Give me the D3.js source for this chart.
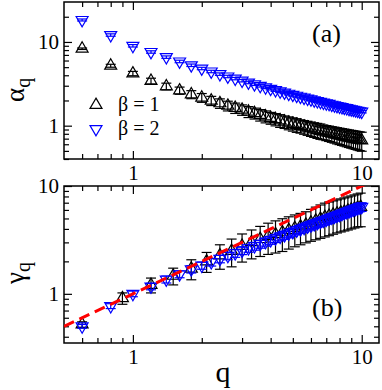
<!DOCTYPE html>
<html>
<head>
<meta charset="utf-8">
<title>alpha_q and gamma_q</title>
<script src="https://cdn.jsdelivr.net/npm/d3@7"></script>
<style>
body { margin: 0; background: #fff; }
svg { display: block; }
text { font-family: "Liberation Serif", "Times New Roman", serif; fill: #000; }
.tick text { font-size: 21px; }
.tick line { stroke: #000; stroke-width: 1.2px; }
</style>
</head>
<body>
<svg id="chart" width="382" height="390" font-family="Liberation Serif, serif"></svg>
<script>

// q grid, step 0.2
var qA = [0.6,0.8,1.0,1.2,1.4,1.6,1.8,2.0,2.2,2.4,2.6,2.8,3.0,3.2,3.4,3.6,3.8,4.0,4.2,4.4,4.6,4.8,5.0,5.2,
          5.4,5.6,5.8,6.0,6.2,6.4,6.6,6.8,7.0,7.2,7.4,7.6,7.8,8.0,8.2,8.4,8.6,8.8,9.0,9.2,9.4,9.6,9.8,10.0];

// (a) alpha_q, beta = 1
var alpha1 = [8.3,5.2,4.2,3.42,2.95,2.63,2.36,2.16,1.99,1.85,1.73,1.63,1.55,1.47,1.41,1.345,1.29,1.24,1.195,1.154,
              1.117,1.083,1.051,1.022,0.995,0.970,0.947,0.925,0.904,0.885,0.867,0.849,0.833,0.818,0.803,0.790,
              0.776,0.764,0.752,0.741,0.730,0.719,0.709,0.700,0.691,0.682,0.674,0.665];
var alpha1Err = [0.17,0.21,0.25,0.27,0.27,0.26,0.26,0.26,0.25,0.24,0.23,0.23,0.22,0.22,0.21,0.21,0.21,0.20,0.20,0.20,
                 0.19,0.19,0.19,0.19,0.18,0.18,0.18,0.18,0.18,0.18,0.18,0.17,0.17,0.17,0.17,0.17,0.17,0.17,
                 0.17,0.17,0.17,0.17,0.17,0.17,0.17,0.17,0.17,0.17];

// (a) alpha_q, beta = 2
var alpha2 = [18.3,12.1,9.0,7.59,6.59,5.85,5.27,4.82,4.44,4.13,3.87,3.65,3.45,3.28,3.13,2.99,2.87,2.76,2.66,2.57,
              2.49,2.41,2.34,2.28,2.22,2.16,2.11,2.06,2.01,1.97,1.93,1.89,1.85,1.82,1.78,1.75,1.72,1.69,1.67,1.64,
              1.62,1.59,1.57,1.55,1.53,1.51,1.49,1.47];
var alpha2Err = [0.5,0.4,0.3,0.25,0.22,0.2,0.18,0.16,0.15,0.14,0.13,0.12,0.12,0.11,0.11,0.1,0.1,0.09,0.09,0.09,
                 0.08,0.08,0.08,0.08,0.07,0.07,0.07,0.07,0.07,0.07,0.06,0.06,0.06,0.06,0.06,0.06,0.06,0.06,0.06,
                 0.05,0.05,0.05,0.05,0.05,0.05,0.05,0.05,0.05];

// (b) gamma_q, beta = 1 (q step 0.3)
var qB1 = [0.6,0.9,1.2,1.5,1.8,2.1,2.4,2.7,3.0,3.3,3.6,3.9,4.2,4.5,4.8,5.1,5.4,5.7,6.0,6.3,6.6,6.9,7.2,7.5,
           7.8,8.1,8.4,8.7,9.0,9.3,9.6,9.9];
var gamma1 = [0.52,0.91,1.21,1.47,1.71,2.00,2.27,2.50,2.78,3.01,3.22,3.42,3.57,3.72,3.89,4.06,4.21,4.37,4.57,4.77,
              4.97,5.15,5.28,5.42,5.55,5.67,5.79,5.91,6.04,6.17,6.30,6.39];
var gamma1Err = [0.03,0.11,0.19,0.26,0.36,0.42,0.58,0.72,0.81,0.90,1.00,1.10,1.18,1.25,1.29,1.33,1.36,1.40,1.50,1.60,
                 1.70,1.78,1.82,1.85,1.88,1.92,1.96,2.00,2.04,2.09,2.13,2.20];

// (b) gamma_q, beta = 2
var qB2 = qA;
var gamma2 = [0.50,0.77,1.00,1.17,1.36,1.52,1.69,1.83,1.97,2.11,2.25,2.38,2.52,2.65,2.77,2.90,3.03,3.15,3.27,3.39,
              3.51,3.63,3.75,3.87,3.98,4.09,4.21,4.32,4.43,4.54,4.65,4.76,4.87,4.98,5.09,5.19,5.30,5.41,5.51,5.62,
              5.72,5.83,5.93,6.03,6.13,6.23,6.34,6.40];
var gamma2Err = [0.02,0.04,0.06,0.08,0.10,0.11,0.13,0.14,0.16,0.17,0.18,0.20,0.21,0.22,0.23,0.25,0.26,0.27,0.28,0.29,
                 0.31,0.32,0.33,0.34,0.35,0.36,0.38,0.39,0.40,0.41,0.42,0.43,0.44,0.45,0.46,0.47,0.48,0.49,0.50,
                 0.51,0.52,0.53,0.54,0.55,0.56,0.57,0.58,0.59];

// reference line gamma = q
var fitQ = [0.5, 12];
var fitGamma = [0.5, 12];

// ticks
var xMajor = [1, 10];
var xMinor = [0.6, 0.7, 0.8, 0.9, 2, 3, 4, 5, 6, 7, 8, 9];
var yMajor = [1, 10];
var yMinorA = [0.4, 0.5, 0.6, 0.7, 0.8, 0.9, 2, 3, 4, 5, 6, 7, 8, 9, 20];
var yMinorB = [0.4, 0.5, 0.6, 0.7, 0.8, 0.9, 2, 3, 4, 5, 6, 7, 8, 9];

var svg = d3.select("#chart");
var left = 64, right = 379;

var x = d3.scaleLog().domain([0.5, 11.9]).range([left, right]);
var yA = d3.scaleLog().domain([0.4, 30]).range([159, 2]);
var yB = d3.scaleLog().domain([0.35, 10]).range([343, 186]);

var tri = d3.symbol().type(d3.symbolTriangle).size(62);

function frame(y, yMinor) {
  var top = y.range()[1], bottom = y.range()[0];
  var g = svg.append("g");

  g.append("g").attr("transform", "translate(0," + bottom + ")")
    .call(d3.axisBottom(x).tickValues(xMajor).tickSize(-8).tickPadding(6).tickFormat(d3.format("d")));
  g.append("g").attr("transform", "translate(0," + bottom + ")")
    .call(d3.axisBottom(x).tickValues(xMinor).tickSize(-5).tickFormat(""));
  g.append("g").attr("transform", "translate(0," + top + ")")
    .call(d3.axisTop(x).tickValues(xMajor).tickSize(-8).tickFormat(""));
  g.append("g").attr("transform", "translate(0," + top + ")")
    .call(d3.axisTop(x).tickValues(xMinor).tickSize(-5).tickFormat(""));

  g.append("g").attr("transform", "translate(" + left + ",0)")
    .call(d3.axisLeft(y).tickValues(yMajor).tickSize(-8).tickPadding(5).tickFormat(d3.format("d")));
  g.append("g").attr("transform", "translate(" + left + ",0)")
    .call(d3.axisLeft(y).tickValues(yMinor).tickSize(-5).tickFormat(""));
  g.append("g").attr("transform", "translate(" + right + ",0)")
    .call(d3.axisRight(y).tickValues(yMajor).tickSize(-8).tickFormat(""));
  g.append("g").attr("transform", "translate(" + right + ",0)")
    .call(d3.axisRight(y).tickValues(yMinor).tickSize(-5).tickFormat(""));

  // d3 axes set a sans-serif font and size on their groups; drop them
  g.selectAll("g").attr("font-family", null).attr("font-size", null);
  g.selectAll(".domain").remove();

  g.append("rect")
    .attr("x", left).attr("y", top)
    .attr("width", right - left).attr("height", bottom - top)
    .attr("fill", "none").attr("stroke", "#000").attr("stroke-width", 1.5);
}

function series(y, qs, vs, es, color, down) {
  var pts = qs.map(function(q, i) { return {q: q, v: vs[i], e: es[i]}; });
  var g = svg.append("g").attr("stroke", color).attr("fill", "none").attr("stroke-width", 1.2);

  var eb = g.append("g").selectAll("g").data(pts).join("g");
  eb.append("line")
    .attr("x1", function(d) { return x(d.q); }).attr("x2", function(d) { return x(d.q); })
    .attr("y1", function(d) { return y(d.v - d.e); }).attr("y2", function(d) { return y(d.v + d.e); });
  eb.append("line")
    .attr("x1", function(d) { return x(d.q) - 5; }).attr("x2", function(d) { return x(d.q) + 5; })
    .attr("y1", function(d) { return y(d.v + d.e); }).attr("y2", function(d) { return y(d.v + d.e); });
  eb.append("line")
    .attr("x1", function(d) { return x(d.q) - 5; }).attr("x2", function(d) { return x(d.q) + 5; })
    .attr("y1", function(d) { return y(d.v - d.e); }).attr("y2", function(d) { return y(d.v - d.e); });

  g.append("g").selectAll("path").data(pts).join("path")
    .attr("d", tri)
    .attr("transform", function(d) {
      return "translate(" + x(d.q) + "," + y(d.v) + ")" + (down ? " rotate(180)" : "");
    });
}

// panel (a)
frame(yA, yMinorA);
series(yA, qA, alpha1, alpha1Err, "#000", false);
series(yA, qA, alpha2, alpha2Err, "blue", true);

// panel (b)
frame(yB, yMinorB);
series(yB, qB1, gamma1, gamma1Err, "#000", false);
series(yB, qB2, gamma2, gamma2Err, "blue", true);

svg.append("clipPath").attr("id", "clipB")
  .append("rect").attr("x", left).attr("y", yB.range()[1])
  .attr("width", right - left).attr("height", yB.range()[0] - yB.range()[1]);

svg.append("path")
  .datum(fitQ.map(function(q, i) { return [q, fitGamma[i]]; }))
  .attr("clip-path", "url(#clipB)")
  .attr("d", d3.line().x(function(d) { return x(d[0]); }).y(function(d) { return yB(d[1]); }))
  .attr("fill", "none").attr("stroke", "red").attr("stroke-width", 3)
  .attr("stroke-dasharray", "11,6");

// legend
var legend = [{label: "\u03b2 = 1", color: "#000", down: false, y: 105},
              {label: "\u03b2 = 2", color: "blue", down: true, y: 129}];
var lg = svg.append("g").selectAll("g").data(legend).join("g");
lg.append("path").attr("d", tri)
  .attr("transform", function(d) { return "translate(96," + d.y + ")" + (d.down ? " rotate(180)" : ""); })
  .attr("fill", "none").attr("stroke", function(d) { return d.color; }).attr("stroke-width", 1.2);
lg.append("text").attr("x", 118).attr("y", function(d) { return d.y + 6; })
  .attr("font-size", 20).text(function(d) { return d.label; });

// panel tags
svg.append("text").attr("x", 312).attr("y", 42).attr("font-size", 26).text("(a)");
svg.append("text").attr("x", 312).attr("y", 316).attr("font-size", 26).text("(b)");

// axis titles
var ta = svg.append("text").attr("transform", "translate(24,102) rotate(-90)").attr("font-size", 27);
ta.append("tspan").text("\u03b1");
ta.append("tspan").attr("dy", 6).attr("font-size", 20).text("q");

var tb = svg.append("text").attr("transform", "translate(24,284) rotate(-90)").attr("font-size", 27);
tb.append("tspan").text("\u03b3");
tb.append("tspan").attr("dy", 6).attr("font-size", 20).text("q");

svg.append("text").attr("x", 223).attr("y", 382).attr("text-anchor", "middle")
  .attr("font-size", 30).text("q");

</script>
</body>
</html>
